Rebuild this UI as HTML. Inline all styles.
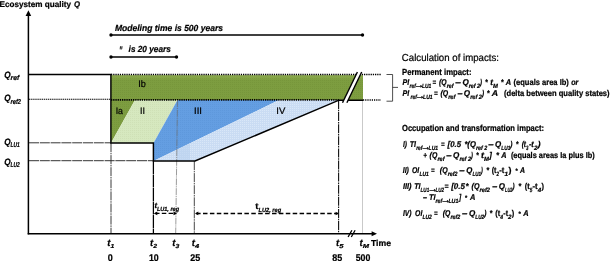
<!DOCTYPE html>
<html><head><meta charset="utf-8">
<style>
html,body{margin:0;padding:0;background:#fff;}
svg{display:block;}
text{font-family:"Liberation Sans",sans-serif;fill:#000;stroke:#000;stroke-width:0.22px;text-rendering:geometricPrecision;}
.b{font-weight:bold;}
.i{font-style:italic;}
</style></head>
<body>
<svg width="610" height="261" viewBox="0 0 610 261">
<defs>
<pattern id="pg" width="2" height="2" patternUnits="userSpaceOnUse"><rect width="2" height="2" fill="#7D9D40"/><rect width="1" height="1" fill="#77963B"/></pattern>
<pattern id="plg" width="2" height="2" patternUnits="userSpaceOnUse"><rect width="2" height="2" fill="#D6E8BF"/><rect width="1" height="1" fill="#cfe0b6"/></pattern>
<pattern id="pb" width="2" height="2" patternUnits="userSpaceOnUse"><rect width="2" height="2" fill="#649EE2"/><rect width="1" height="1" fill="#5E98DC"/></pattern>
<pattern id="plb" width="2" height="2" patternUnits="userSpaceOnUse"><rect width="2" height="2" fill="#CADCF3"/><rect width="1" height="1" fill="#d9e7f8"/></pattern>
<linearGradient id="gtop" x1="0" y1="0" x2="0" y2="1"><stop offset="0" stop-color="#9ab85a" stop-opacity="0.55"/><stop offset="1" stop-color="#9ab85a" stop-opacity="0"/></linearGradient>
</defs>
<rect width="610" height="261" fill="#fff"/>
<!-- filled areas -->
<rect x="111" y="75.2" width="252" height="25" fill="url(#pg)"/><rect x="111" y="75.2" width="252" height="5" fill="url(#gtop)"/>
<polygon points="111,100 135,100 111,143" fill="url(#pg)"/>
<polygon points="135,100 177.5,100 153.5,143 111,143" fill="url(#plg)"/>
<polygon points="177.5,100 279,100 153.5,161 153.5,143" fill="url(#pb)"/>
<polygon points="279,100 339,100 195,161 153.5,161" fill="url(#plb)"/>
<polygon points="177,149.6 190,143.3 190,161 177,161" fill="#b4cdee" opacity="0.5"/>
<!-- guide lines -->
<g stroke="#000" fill="none">
<line x1="111" y1="74.6" x2="381" y2="74.6" stroke-width="1.5" stroke-dasharray="1.3 0.9"/>
<line x1="29" y1="99.3" x2="111" y2="99.3" stroke-width="1.1" stroke-dasharray="1.4 0.7"/>
<line x1="111" y1="99.9" x2="339" y2="99.9" stroke-width="1.7" stroke-dasharray="1.3 0.9"/>
<line x1="363" y1="100" x2="381" y2="100" stroke-width="1.4" stroke-dasharray="1.2 1"/>
<line x1="29" y1="142.8" x2="111" y2="142.8" stroke-width="0.85" stroke="#111" stroke-dasharray="10 0.8"/>
<line x1="29" y1="160.7" x2="153" y2="160.7" stroke-width="0.85" stroke="#111" stroke-dasharray="10 0.8"/>
<line x1="111" y1="143" x2="111" y2="233" stroke-width="0.9" stroke="#222" stroke-dasharray="9 0.8 1.5 0.8"/>
<line x1="153.4" y1="161" x2="153.4" y2="233" stroke-width="1.25" stroke-dasharray="13 0.5"/>
<line x1="177.5" y1="100" x2="175.7" y2="233" stroke-width="0.65" stroke="#666" stroke-dasharray="7 0.8 1.2 0.8"/>
<line x1="194.3" y1="161" x2="194.3" y2="233" stroke-width="0.9" stroke="#333" stroke-dasharray="9 0.8 1.5 0.8"/>
<line x1="338.6" y1="100" x2="338.6" y2="233" stroke-width="1.1" stroke="#111" stroke-dasharray="9 0.8 1.5 0.8"/>
<line x1="362.5" y1="100" x2="362.5" y2="233" stroke-width="0.8" stroke="#bbb"/>
</g>
<!-- thick black profile -->
<polyline points="29,74.4 110.9,74.4 110.9,142.9 153.4,142.9 153.4,161 195,161 339,100.2 363,100.2" fill="none" stroke="#000" stroke-width="1.45" stroke-linejoin="miter"/>
<!-- axes -->
<line x1="28.4" y1="15" x2="28.4" y2="234.4" stroke="#000" stroke-width="1.5"/>
<polygon points="28.4,10.2 31.2,16 25.6,16" fill="#000"/>
<line x1="27.7" y1="233.7" x2="372" y2="233.7" stroke="#000" stroke-width="1.5"/>
<polygon points="377,233.7 371.6,231.2 371.6,236.2" fill="#000"/>
<line x1="348.1" y1="237" x2="351.9" y2="230.3" stroke="#000" stroke-width="1.3"/>
<line x1="351.3" y1="237" x2="355.1" y2="230.3" stroke="#000" stroke-width="1.3"/>
<!-- break slashes over green -->
<polygon points="342.5,102.7 357.4,72 361.7,72 346.9,102.7" fill="#fff"/>
<line x1="342.5" y1="102.7" x2="357.4" y2="72" stroke="#000" stroke-width="1.4"/>
<line x1="346.9" y1="102.7" x2="361.7" y2="72" stroke="#000" stroke-width="1.4"/>
<!-- bracket -->
<polyline points="386.5,74.5 392.6,74.5 392.6,101.2 386.5,101.2" fill="none" stroke="#222" stroke-width="0.8"/>
<line x1="392.6" y1="87.4" x2="398" y2="87.4" stroke="#222" stroke-width="0.8"/>
<!-- duration bars -->
<line x1="111" y1="35" x2="362.5" y2="35" stroke="#000" stroke-width="1.3"/>
<circle cx="111" cy="35" r="1.7"/><circle cx="362.5" cy="35" r="1.7"/>
<line x1="111" y1="57" x2="176.5" y2="57" stroke="#000" stroke-width="1.3"/>
<circle cx="111" cy="57" r="1.7"/><circle cx="176.5" cy="57" r="1.7"/>
<!-- dashed arrows -->
<line x1="155" y1="213.4" x2="176" y2="213.4" stroke="#000" stroke-width="1.3" stroke-dasharray="4.5 2.3"/>
<polygon points="153.8,213.4 157.3,211.6 157.3,215.2" fill="#000"/>
<polygon points="177,213.4 173.5,211.6 173.5,215.2" fill="#000"/>
<line x1="196.1" y1="213.4" x2="338" y2="213.4" stroke="#000" stroke-width="1.5" stroke-dasharray="4.5 2.4"/>
<polygon points="195,213.4 198.3,211.6 198.3,215.2" fill="#000"/>
<polygon points="338.6,213.5 335.6,211.7 335.6,215.3" fill="#000"/>
<text x="-0.5" y="6.8" font-size="8.2" class="b" textLength="71.5" lengthAdjust="spacingAndGlyphs">Ecosystem quality</text>
<text x="74.0" y="6.8" font-size="8.2" class="b i" textLength="6.0" lengthAdjust="spacingAndGlyphs">Q</text>
<text x="115.0" y="31.0" font-size="8.9" class="b i" textLength="108.0" lengthAdjust="spacingAndGlyphs">Modeling time is 500 years</text>
<text x="119.2" y="53.5" font-size="11" class="b i" textLength="3.0" lengthAdjust="spacingAndGlyphs">″</text>
<text x="128.6" y="52.4" font-size="8.9" class="b i" textLength="42.2" lengthAdjust="spacingAndGlyphs">is 20 years</text>
<text x="4.2" y="78.0" font-size="9.2" class="b i" textLength="6.4" lengthAdjust="spacingAndGlyphs">Q</text>
<text x="10.6" y="80.3" font-size="7" class="b i" textLength="8.6" lengthAdjust="spacingAndGlyphs">ref</text>
<text x="4.2" y="101.4" font-size="9.2" class="b i" textLength="6.4" lengthAdjust="spacingAndGlyphs">Q</text>
<text x="10.6" y="103.7" font-size="7" class="b i" textLength="10.4" lengthAdjust="spacingAndGlyphs">ref2</text>
<text x="4.2" y="145.0" font-size="9.2" class="b i" textLength="6.4" lengthAdjust="spacingAndGlyphs">Q</text>
<text x="10.6" y="147.3" font-size="7" class="b i" textLength="9.2" lengthAdjust="spacingAndGlyphs">LU1</text>
<text x="4.2" y="165.0" font-size="9.2" class="b i" textLength="6.4" lengthAdjust="spacingAndGlyphs">Q</text>
<text x="10.6" y="167.3" font-size="7" class="b i" textLength="9.2" lengthAdjust="spacingAndGlyphs">LU2</text>
<text x="138.2" y="86.9" font-size="9.4" textLength="7.6" lengthAdjust="spacingAndGlyphs" fill="#111">Ib</text>
<text x="115.7" y="114.3" font-size="9.4" textLength="7.3" lengthAdjust="spacingAndGlyphs" fill="#111">Ia</text>
<text x="140.0" y="114.3" font-size="9.4" textLength="5.0" lengthAdjust="spacingAndGlyphs" fill="#111">II</text>
<text x="194.0" y="114.0" font-size="9.4" textLength="8.0" lengthAdjust="spacingAndGlyphs" fill="#111">III</text>
<text x="276.3" y="114.0" font-size="9.4" textLength="9.0" lengthAdjust="spacingAndGlyphs" fill="#111">IV</text>
<text x="107.2" y="246.3" font-size="9.6" class="b i" textLength="3.2" lengthAdjust="spacingAndGlyphs">t</text>
<text x="110.4" y="248.3" font-size="5.8" class="b i" textLength="3.8" lengthAdjust="spacingAndGlyphs">1</text>
<text x="150.0" y="246.3" font-size="9.6" class="b i" textLength="3.2" lengthAdjust="spacingAndGlyphs">t</text>
<text x="153.2" y="248.3" font-size="5.8" class="b i" textLength="3.8" lengthAdjust="spacingAndGlyphs">2</text>
<text x="172.3" y="246.3" font-size="9.6" class="b i" textLength="3.2" lengthAdjust="spacingAndGlyphs">t</text>
<text x="175.5" y="248.3" font-size="5.8" class="b i" textLength="3.8" lengthAdjust="spacingAndGlyphs">3</text>
<text x="191.7" y="246.3" font-size="9.6" class="b i" textLength="3.2" lengthAdjust="spacingAndGlyphs">t</text>
<text x="194.9" y="248.3" font-size="5.8" class="b i" textLength="4.2" lengthAdjust="spacingAndGlyphs">4</text>
<text x="336.0" y="246.3" font-size="9.6" class="b i" textLength="3.2" lengthAdjust="spacingAndGlyphs">t</text>
<text x="339.2" y="248.3" font-size="5.8" class="b i" textLength="4.2" lengthAdjust="spacingAndGlyphs">5</text>
<text x="359.5" y="246.3" font-size="9.6" class="b i" textLength="3.2" lengthAdjust="spacingAndGlyphs">t</text>
<text x="362.7" y="248.3" font-size="5.8" class="b i" textLength="6.3" lengthAdjust="spacingAndGlyphs">M</text>
<text x="371.0" y="246.3" font-size="8.6" class="b" textLength="20.0" lengthAdjust="spacingAndGlyphs">Time</text>
<text x="107.7" y="261.0" font-size="9.8" class="b" textLength="5.0" lengthAdjust="spacingAndGlyphs">0</text>
<text x="148.9" y="261.0" font-size="9.8" class="b" textLength="9.8" lengthAdjust="spacingAndGlyphs">10</text>
<text x="190.2" y="261.0" font-size="9.8" class="b" textLength="10.0" lengthAdjust="spacingAndGlyphs">25</text>
<text x="332.2" y="261.0" font-size="9.8" class="b" textLength="10.0" lengthAdjust="spacingAndGlyphs">85</text>
<text x="355.7" y="261.0" font-size="9.8" class="b" textLength="14.6" lengthAdjust="spacingAndGlyphs">500</text>
<text x="154.4" y="208.2" font-size="7.8" class="b i" textLength="2.6" lengthAdjust="spacingAndGlyphs">t</text>
<text x="156.9" y="211.1" font-size="6" class="b i" textLength="22.2" lengthAdjust="spacingAndGlyphs">LU1, reg</text>
<text x="255.2" y="209.3" font-size="8.6" class="b" textLength="3.2" lengthAdjust="spacingAndGlyphs">t</text>
<text x="258.6" y="211.6" font-size="6" class="b i" textLength="22.5" lengthAdjust="spacingAndGlyphs">LU2, reg</text>
<text x="401.8" y="61.0" font-size="10.1" textLength="97.2" lengthAdjust="spacingAndGlyphs" stroke="none">Calculation of impacts:</text>
<text x="402.0" y="74.9" font-size="8.8" class="b" textLength="69.5" lengthAdjust="spacingAndGlyphs">Permanent impact:</text>
<text x="402.5" y="85.0" font-size="8.4" class="b i" textLength="6.7" lengthAdjust="spacingAndGlyphs">PI</text>
<text x="409.6" y="88.0" font-size="6.2" class="b i" textLength="6.2" lengthAdjust="spacingAndGlyphs">ref</text>
<text x="414.0" y="88.0" font-size="10.2" class="b" stroke="none">→</text>
<text x="422.0" y="88.0" font-size="6.2" class="b i" textLength="9.4" lengthAdjust="spacingAndGlyphs">LU1</text>
<text x="432.6" y="85.0" font-size="8.4" class="b i" textLength="3.6" lengthAdjust="spacingAndGlyphs">=</text>
<text x="439.1" y="85.0" font-size="8.4" class="b i" textLength="7.6" lengthAdjust="spacingAndGlyphs">(Q</text>
<text x="446.8" y="88.0" font-size="6.2" class="b i" textLength="6.7" lengthAdjust="spacingAndGlyphs">ref</text>
<text x="455.3" y="85.0" font-size="8.4" class="b i" textLength="5.7" lengthAdjust="spacingAndGlyphs">–</text>
<text x="462.4" y="85.0" font-size="8.4" class="b i" textLength="6.3" lengthAdjust="spacingAndGlyphs">Q</text>
<text x="468.8" y="88.0" font-size="6.2" class="b i" textLength="11.2" lengthAdjust="spacingAndGlyphs">ref 2</text>
<text x="480.0" y="85.0" font-size="8.4" class="b i" textLength="2.0" lengthAdjust="spacingAndGlyphs">)</text>
<text x="485.0" y="85.0" font-size="8.4" class="b i" textLength="2.7" lengthAdjust="spacingAndGlyphs">*</text>
<text x="490.3" y="85.0" font-size="8.4" class="b i" textLength="2.7" lengthAdjust="spacingAndGlyphs">t</text>
<text x="493.1" y="88.0" font-size="6.2" class="b i" textLength="4.9" lengthAdjust="spacingAndGlyphs">M</text>
<text x="500.8" y="85.0" font-size="8.4" class="b i" textLength="2.8" lengthAdjust="spacingAndGlyphs">*</text>
<text x="505.8" y="85.0" font-size="8.4" class="b i" textLength="5.4" lengthAdjust="spacingAndGlyphs">A</text>
<text x="513.5" y="85.0" font-size="8.4" class="b" textLength="55.4" lengthAdjust="spacingAndGlyphs">(equals area Ib)</text>
<text x="571.2" y="85.0" font-size="8.4" class="b i" textLength="7.2" lengthAdjust="spacingAndGlyphs">or</text>
<text x="402.5" y="96.0" font-size="8.4" class="b i" textLength="6.7" lengthAdjust="spacingAndGlyphs">PI</text>
<text x="410.6" y="99.0" font-size="6.2" class="b i" textLength="6.3" lengthAdjust="spacingAndGlyphs">ref</text>
<text x="415.1" y="99.0" font-size="10.2" class="b" stroke="none">→</text>
<text x="423.1" y="99.0" font-size="6.2" class="b i" textLength="9.5" lengthAdjust="spacingAndGlyphs">LU1</text>
<text x="434.0" y="96.0" font-size="8.4" class="b i" textLength="3.7" lengthAdjust="spacingAndGlyphs">=</text>
<text x="440.4" y="96.0" font-size="8.4" class="b i" textLength="7.7" lengthAdjust="spacingAndGlyphs">(Q</text>
<text x="448.2" y="99.0" font-size="6.2" class="b i" textLength="7.1" lengthAdjust="spacingAndGlyphs">ref</text>
<text x="457.5" y="96.0" font-size="8.4" class="b i" textLength="5.1" lengthAdjust="spacingAndGlyphs">–</text>
<text x="463.8" y="96.0" font-size="8.4" class="b i" textLength="6.3" lengthAdjust="spacingAndGlyphs">Q</text>
<text x="470.2" y="99.0" font-size="6.2" class="b i" textLength="11.7" lengthAdjust="spacingAndGlyphs">ref 2</text>
<text x="481.9" y="96.0" font-size="8.4" class="b i" textLength="2.1" lengthAdjust="spacingAndGlyphs">)</text>
<text x="486.7" y="96.0" font-size="8.4" class="b i" textLength="2.8" lengthAdjust="spacingAndGlyphs">*</text>
<text x="491.8" y="96.0" font-size="8.4" class="b i" textLength="6.3" lengthAdjust="spacingAndGlyphs">A</text>
<text x="504.0" y="96.0" font-size="8.4" class="b" textLength="105.6" lengthAdjust="spacingAndGlyphs">(delta between quality states)</text>
<text x="402.0" y="131.0" font-size="8.8" class="b" textLength="142.0" lengthAdjust="spacingAndGlyphs">Occupation and transformation impact:</text>
<text x="403.0" y="147.0" font-size="8.4" class="b i" textLength="4.0" lengthAdjust="spacingAndGlyphs">I)</text>
<text x="409.7" y="147.0" font-size="8.4" class="b i" textLength="6.3" lengthAdjust="spacingAndGlyphs">TI</text>
<text x="416.2" y="150.0" font-size="6.2" class="b i" textLength="6.2" lengthAdjust="spacingAndGlyphs">ref</text>
<text x="420.6" y="150.0" font-size="10.2" class="b" stroke="none">→</text>
<text x="428.6" y="150.0" font-size="6.2" class="b i" textLength="9.4" lengthAdjust="spacingAndGlyphs">LU1</text>
<text x="440.9" y="147.0" font-size="8.4" class="b i" textLength="3.6" lengthAdjust="spacingAndGlyphs">=</text>
<text x="447.6" y="147.0" font-size="8.4" class="b i" textLength="13.5" lengthAdjust="spacingAndGlyphs">[0.5</text>
<text x="464.4" y="147.0" font-size="8.4" class="b i" textLength="11.5" lengthAdjust="spacingAndGlyphs">*(Q</text>
<text x="476.0" y="150.0" font-size="6.2" class="b i" textLength="11.3" lengthAdjust="spacingAndGlyphs">ref 2</text>
<text x="488.2" y="147.0" font-size="8.4" class="b i" textLength="5.4" lengthAdjust="spacingAndGlyphs">–</text>
<text x="495.0" y="147.0" font-size="8.4" class="b i" textLength="6.2" lengthAdjust="spacingAndGlyphs">Q</text>
<text x="501.3" y="150.0" font-size="6.2" class="b i" textLength="9.0" lengthAdjust="spacingAndGlyphs">LU1</text>
<text x="510.3" y="147.0" font-size="8.4" class="b i" textLength="2.2" lengthAdjust="spacingAndGlyphs">)</text>
<text x="515.7" y="147.0" font-size="8.4" class="b i" textLength="2.7" lengthAdjust="spacingAndGlyphs">*</text>
<text x="521.7" y="147.0" font-size="8.4" class="b i" textLength="4.3" lengthAdjust="spacingAndGlyphs">(t</text>
<text x="526.0" y="150.0" font-size="6.2" class="b i" textLength="2.4" lengthAdjust="spacingAndGlyphs">3</text>
<text x="528.9" y="147.0" font-size="8.4" class="b i" textLength="4.9" lengthAdjust="spacingAndGlyphs">-t</text>
<text x="533.9" y="150.0" font-size="6.2" class="b i" textLength="3.5" lengthAdjust="spacingAndGlyphs">2</text>
<text x="537.8" y="147.0" font-size="8.4" class="b i" textLength="2.8" lengthAdjust="spacingAndGlyphs">)</text>
<text x="423.2" y="158.0" font-size="8.4" class="b i" textLength="3.7" lengthAdjust="spacingAndGlyphs">+</text>
<text x="429.6" y="158.0" font-size="8.4" class="b i" textLength="7.7" lengthAdjust="spacingAndGlyphs">(Q</text>
<text x="437.4" y="161.0" font-size="6.2" class="b i" textLength="7.1" lengthAdjust="spacingAndGlyphs">ref</text>
<text x="446.3" y="158.0" font-size="8.4" class="b i" textLength="5.4" lengthAdjust="spacingAndGlyphs">–</text>
<text x="453.0" y="158.0" font-size="8.4" class="b i" textLength="6.3" lengthAdjust="spacingAndGlyphs">Q</text>
<text x="459.4" y="161.0" font-size="6.2" class="b i" textLength="11.6" lengthAdjust="spacingAndGlyphs">ref 2</text>
<text x="471.0" y="158.0" font-size="8.4" class="b i" textLength="1.9" lengthAdjust="spacingAndGlyphs">)</text>
<text x="475.9" y="158.0" font-size="8.4" class="b i" textLength="2.7" lengthAdjust="spacingAndGlyphs">*</text>
<text x="481.0" y="158.0" font-size="8.4" class="b i" textLength="3.0" lengthAdjust="spacingAndGlyphs">t</text>
<text x="484.1" y="161.0" font-size="6.2" class="b i" textLength="4.9" lengthAdjust="spacingAndGlyphs">M</text>
<text x="489.2" y="158.0" font-size="8.4" class="b i" textLength="2.6" lengthAdjust="spacingAndGlyphs">]</text>
<text x="496.0" y="158.0" font-size="8.4" class="b i" textLength="3.0" lengthAdjust="spacingAndGlyphs">*</text>
<text x="501.2" y="158.0" font-size="8.4" class="b i" textLength="5.3" lengthAdjust="spacingAndGlyphs">A</text>
<text x="510.9" y="158.0" font-size="8.4" class="b" textLength="83.8" lengthAdjust="spacingAndGlyphs">(equals areas Ia plus Ib)</text>
<text x="402.7" y="173.0" font-size="8.4" class="b i" textLength="6.2" lengthAdjust="spacingAndGlyphs">II)</text>
<text x="412.0" y="173.0" font-size="8.4" class="b i" textLength="7.2" lengthAdjust="spacingAndGlyphs">OI</text>
<text x="419.4" y="176.0" font-size="6.2" class="b i" textLength="9.3" lengthAdjust="spacingAndGlyphs">LU1</text>
<text x="431.0" y="173.0" font-size="8.4" class="b i" textLength="3.6" lengthAdjust="spacingAndGlyphs">=</text>
<text x="439.8" y="173.0" font-size="8.4" class="b i" textLength="7.8" lengthAdjust="spacingAndGlyphs">(Q</text>
<text x="447.7" y="176.0" font-size="6.2" class="b i" textLength="9.8" lengthAdjust="spacingAndGlyphs">ref2</text>
<text x="459.3" y="173.0" font-size="8.4" class="b i" textLength="5.4" lengthAdjust="spacingAndGlyphs">–</text>
<text x="466.2" y="173.0" font-size="8.4" class="b i" textLength="6.1" lengthAdjust="spacingAndGlyphs">Q</text>
<text x="472.4" y="176.0" font-size="6.2" class="b i" textLength="8.6" lengthAdjust="spacingAndGlyphs">LU1</text>
<text x="481.0" y="173.0" font-size="8.4" class="b i" textLength="1.8" lengthAdjust="spacingAndGlyphs">)</text>
<text x="486.2" y="173.0" font-size="8.4" class="b i" textLength="2.8" lengthAdjust="spacingAndGlyphs">*</text>
<text x="491.7" y="173.0" font-size="8.4" class="b" textLength="4.8" lengthAdjust="spacingAndGlyphs">(t</text>
<text x="496.5" y="176.0" font-size="6.2" class="b i" textLength="2.5" lengthAdjust="spacingAndGlyphs">2</text>
<text x="499.2" y="173.0" font-size="8.4" class="b" textLength="5.1" lengthAdjust="spacingAndGlyphs">-t</text>
<text x="504.4" y="176.0" font-size="6.2" class="b i" textLength="3.6" lengthAdjust="spacingAndGlyphs">1</text>
<text x="508.5" y="173.0" font-size="8.4" class="b" textLength="3.0" lengthAdjust="spacingAndGlyphs">)</text>
<text x="515.2" y="173.0" font-size="6.720000000000001" class="b i" textLength="2.3" lengthAdjust="spacingAndGlyphs">*</text>
<text x="520.0" y="173.0" font-size="8.4" class="b i" textLength="5.0" lengthAdjust="spacingAndGlyphs">A</text>
<text x="402.9" y="189.0" font-size="8.4" class="b i" textLength="8.6" lengthAdjust="spacingAndGlyphs">III)</text>
<text x="414.2" y="189.0" font-size="8.4" class="b i" textLength="6.3" lengthAdjust="spacingAndGlyphs">TI</text>
<text x="420.6" y="192.0" font-size="6.2" class="b i" textLength="8.6" lengthAdjust="spacingAndGlyphs">LU1</text>
<text x="427.4" y="192.0" font-size="10.2" class="b" stroke="none">→</text>
<text x="435.4" y="192.0" font-size="6.2" class="b i" textLength="8.6" lengthAdjust="spacingAndGlyphs">LU2</text>
<text x="444.5" y="189.0" font-size="8.4" class="b i" textLength="4.0" lengthAdjust="spacingAndGlyphs">=</text>
<text x="451.2" y="189.0" font-size="8.4" class="b i" textLength="13.8" lengthAdjust="spacingAndGlyphs">[0.5</text>
<text x="465.6" y="189.0" font-size="8.4" class="b i" textLength="3.1" lengthAdjust="spacingAndGlyphs">*</text>
<text x="471.6" y="189.0" font-size="8.4" class="b i" textLength="7.9" lengthAdjust="spacingAndGlyphs">(Q</text>
<text x="479.6" y="192.0" font-size="6.2" class="b i" textLength="10.4" lengthAdjust="spacingAndGlyphs">ref2</text>
<text x="492.2" y="189.0" font-size="8.4" class="b i" textLength="5.1" lengthAdjust="spacingAndGlyphs">–</text>
<text x="498.8" y="189.0" font-size="8.4" class="b i" textLength="6.2" lengthAdjust="spacingAndGlyphs">Q</text>
<text x="505.1" y="192.0" font-size="6.2" class="b i" textLength="7.4" lengthAdjust="spacingAndGlyphs">LU2</text>
<text x="512.5" y="189.0" font-size="8.4" class="b i" textLength="2.1" lengthAdjust="spacingAndGlyphs">)</text>
<text x="518.2" y="189.0" font-size="8.4" class="b i" textLength="2.9" lengthAdjust="spacingAndGlyphs">*</text>
<text x="524.7" y="189.0" font-size="8.4" class="b" textLength="4.9" lengthAdjust="spacingAndGlyphs">(t</text>
<text x="529.7" y="192.0" font-size="6.2" class="b i" textLength="2.6" lengthAdjust="spacingAndGlyphs">5</text>
<text x="532.5" y="189.0" font-size="8.4" class="b" textLength="5.2" lengthAdjust="spacingAndGlyphs">-t</text>
<text x="537.8" y="192.0" font-size="6.2" class="b i" textLength="3.5" lengthAdjust="spacingAndGlyphs">4</text>
<text x="541.5" y="189.0" font-size="8.4" class="b" textLength="2.5" lengthAdjust="spacingAndGlyphs">)</text>
<text x="422.9" y="200.0" font-size="8.4" class="b i" textLength="4.0" lengthAdjust="spacingAndGlyphs">–</text>
<text x="429.0" y="200.0" font-size="8.4" class="b i" textLength="6.5" lengthAdjust="spacingAndGlyphs">TI</text>
<text x="435.6" y="203.0" font-size="6.2" class="b i" textLength="6.6" lengthAdjust="spacingAndGlyphs">ref</text>
<text x="440.4" y="203.0" font-size="10.2" class="b" stroke="none">→</text>
<text x="448.4" y="203.0" font-size="6.2" class="b i" textLength="10.0" lengthAdjust="spacingAndGlyphs">LU1</text>
<text x="459.0" y="200.0" font-size="8.4" class="b i" textLength="2.2" lengthAdjust="spacingAndGlyphs">]</text>
<text x="464.7" y="200.0" font-size="6.720000000000001" class="b i" textLength="2.3" lengthAdjust="spacingAndGlyphs">*</text>
<text x="470.1" y="200.0" font-size="8.4" class="b i" textLength="5.4" lengthAdjust="spacingAndGlyphs">A</text>
<text x="402.9" y="216.0" font-size="8.4" class="b i" textLength="8.6" lengthAdjust="spacingAndGlyphs">IV)</text>
<text x="415.1" y="216.0" font-size="8.4" class="b i" textLength="7.2" lengthAdjust="spacingAndGlyphs">OI</text>
<text x="422.4" y="219.0" font-size="6.2" class="b i" textLength="9.3" lengthAdjust="spacingAndGlyphs">LU2</text>
<text x="434.1" y="216.0" font-size="8.4" class="b i" textLength="3.6" lengthAdjust="spacingAndGlyphs">=</text>
<text x="442.7" y="216.0" font-size="8.4" class="b i" textLength="7.6" lengthAdjust="spacingAndGlyphs">(Q</text>
<text x="450.4" y="219.0" font-size="6.2" class="b i" textLength="9.8" lengthAdjust="spacingAndGlyphs">ref2</text>
<text x="462.0" y="216.0" font-size="8.4" class="b i" textLength="5.4" lengthAdjust="spacingAndGlyphs">–</text>
<text x="468.9" y="216.0" font-size="8.4" class="b i" textLength="6.3" lengthAdjust="spacingAndGlyphs">Q</text>
<text x="475.3" y="219.0" font-size="6.2" class="b i" textLength="8.9" lengthAdjust="spacingAndGlyphs">LU2</text>
<text x="484.2" y="216.0" font-size="8.4" class="b i" textLength="2.2" lengthAdjust="spacingAndGlyphs">)</text>
<text x="489.5" y="216.0" font-size="8.4" class="b i" textLength="2.8" lengthAdjust="spacingAndGlyphs">*</text>
<text x="495.3" y="216.0" font-size="8.4" class="b" textLength="4.9" lengthAdjust="spacingAndGlyphs">(t</text>
<text x="500.3" y="219.0" font-size="6.2" class="b i" textLength="2.8" lengthAdjust="spacingAndGlyphs">4</text>
<text x="503.3" y="216.0" font-size="8.4" class="b" textLength="4.7" lengthAdjust="spacingAndGlyphs">-t</text>
<text x="508.1" y="219.0" font-size="6.2" class="b i" textLength="3.5" lengthAdjust="spacingAndGlyphs">2</text>
<text x="511.8" y="216.0" font-size="8.4" class="b" textLength="2.5" lengthAdjust="spacingAndGlyphs">)</text>
<text x="518.2" y="216.0" font-size="6.720000000000001" class="b i" textLength="2.4" lengthAdjust="spacingAndGlyphs">*</text>
<text x="523.3" y="216.0" font-size="8.4" class="b i" textLength="5.4" lengthAdjust="spacingAndGlyphs">A</text>
</svg>
</body></html>
